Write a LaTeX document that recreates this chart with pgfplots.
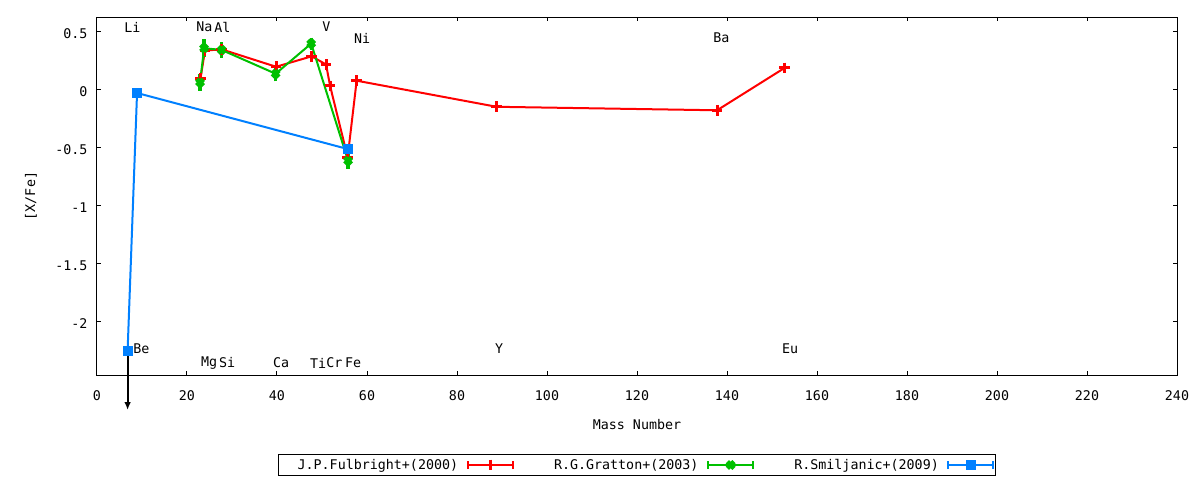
\documentclass[border=0pt]{standalone}
\usepackage{fontspec}
\setmainfont{DejaVu Sans Mono}
\usepackage{pgfplots}
\pgfplotsset{compat=1.18}
\usetikzlibrary{arrows.meta}
\definecolor{gred}{HTML}{FF0000}
\definecolor{ggreen}{HTML}{00C000}
\definecolor{gblue}{HTML}{0080FF}
\begin{document}
\begin{tikzpicture}
\begin{axis}[
  name=ax,
  scale only axis,
  width=810pt, height=268.5pt,
  xmin=0, xmax=240, ymin=-2.457, ymax=0.629,
  xtick={0,20,40,60,80,100,120,140,160,180,200,220,240},
  xticklabels={0,20,40,60,80,100,120,140,160,180,200,220,240},
  ytick={-2,-1.5,-1,-0.5,0,0.5},
  yticklabels={-2,-1.5,-1,-0.5,0,0.5},
  tick align=inside,
  major tick length=3.2pt,
  every tick/.style={black, line width=0.75pt},
  axis line style={line width=0.75pt},
  xticklabel style={anchor=base, inner sep=0pt, yshift=-18.75pt},
  yticklabel style={anchor=east, inner sep=0pt, xshift=-7pt, yshift=-1pt},
  xlabel={Mass Number},
  ylabel={[X/Fe]},
  xlabel style={at={(axis description cs:0.5,0)}, anchor=center, yshift=-37pt},
  ylabel style={at={(axis description cs:0,0.5)}, anchor=center, yshift=49.5pt},
  clip=false,
  legend columns=3,
  legend plot pos=right,
  legend style={at={(axis description cs:0.5,-0.2514)}, anchor=center,
    draw=black, line width=0.75pt, inner xsep=0.5pt, inner ysep=1pt,
    column sep=4.5pt, cells={inner sep=0pt}},
  legend image code/.code={
    \draw[#1, mark=none] (0pt,0pt) -- (33.75pt,0pt);
    \draw[#1, mark=none] (0pt,-3pt) -- (0pt,3pt) (33.75pt,-3pt) -- (33.75pt,3pt);
    \draw[#1, draw=none] plot coordinates {(16.875pt,0pt)};
  },
]
\addplot[gred, line width=1.5pt, mark=+, mark size=4pt, mark options={line width=2.2pt},
  error bars/.cd, y dir=both, y explicit,
  error bar style={line width=1.5pt}, error mark options={line width=1.5pt, mark size=3pt}]
  coordinates {
  (23.0,0.10) +- (0,0.01)
  (24.0,0.34) +- (0,0.01)
  (27.7,0.35) +- (0,0.01)
  (39.8,0.20) +- (0,0.01)
  (47.7,0.29) +- (0,0.01)
  (50.9,0.22) +- (0,0.01)
  (51.8,0.035) +- (0,0.01)
  (55.7,-0.58) +- (0,0.01)
  (57.7,0.08) +- (0,0.01)
  (88.8,-0.145) +- (0,0.01)
  (137.8,-0.175) +- (0,0.01)
  (152.8,0.19) +- (0,0.01)
};
\addlegendentry{\makebox[132pt][r]{J.P.Fulbright+(2000)}}
\addplot[ggreen, line width=1.5pt, mark=x, mark size=3.5pt, mark options={line width=3.5pt},
  error bars/.cd, y dir=both, y explicit,
  error bar style={line width=2.5pt}, error mark options={line width=2.5pt, mark size=3.5pt}]
  coordinates {
  (22.9,0.065) +- (0,0.03)
  (23.8,0.36) +- (0,0.037)
  (27.7,0.345) +- (0,0.028)
  (39.7,0.14) +- (0,0.026)
  (47.6,0.40) +- (0,0.012)
  (55.8,-0.61) +- (0,0.03)
};
\addlegendentry{\makebox[132pt][r]{R.G.Gratton+(2003)}}
\draw[black, line width=1.5pt, -{Latex[length=6pt,width=5pt]}] (axis cs:6.8,-2.25) -- (axis cs:6.8,-2.759);
\addplot[gblue, line width=1.5pt, mark=square*, mark size=3.4pt, mark options={line width=0.75pt},
  error bars/.cd, y dir=both, y explicit,
  error bar style={line width=1.5pt}, error mark options={line width=1.5pt, mark size=3pt}]
  coordinates {
  (6.8,-2.25) +- (0,0)
  (8.9,-0.026) +- (0,0)
  (55.8,-0.51) +- (0,0)
};
\addlegendentry{\makebox[132pt][r]{R.Smiljanic+(2009)}}
\begin{scope}[every node/.style={anchor=west, inner sep=0pt, black}]
\node at (axis cs:6.0,0.543) {Li};
\node at (axis cs:22.0,0.543) {Na};
\node at (axis cs:26.0,0.543) {Al};
\node at (axis cs:50.0,0.543) {V};
\node at (axis cs:57.1,0.448) {Ni};
\node at (axis cs:136.9,0.448) {Ba};
\node at (axis cs:8.0,-2.233) {Be};
\node at (axis cs:88.4,-2.233) {Y};
\node at (axis cs:152.2,-2.233) {Eu};
\node at (axis cs:23.1,-2.353) {Mg};
\node at (axis cs:27.1,-2.353) {Si};
\node at (axis cs:39.1,-2.353) {Ca};
\node at (axis cs:47.3,-2.353) {Ti};
\node at (axis cs:50.9,-2.353) {Cr};
\node at (axis cs:55.1,-2.353) {Fe};
\end{scope}
\end{axis}
\pgfresetboundingbox
\path (ax.south west) ++(-72.75pt,-78.75pt) rectangle ++(900pt,360pt);
\end{tikzpicture}
\end{document}
